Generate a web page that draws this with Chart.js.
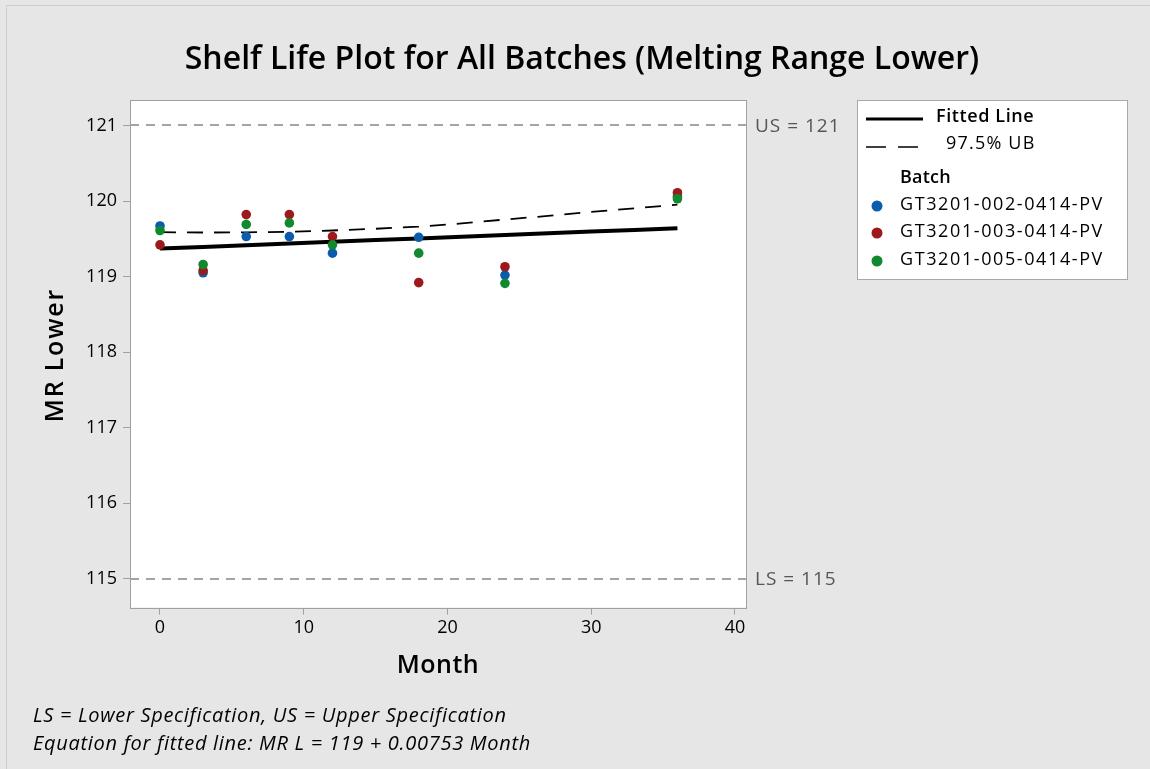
<!DOCTYPE html>
<html>
<head>
<meta charset="utf-8">
<script src="https://cdn.jsdelivr.net/npm/chart.js@4.4.1/dist/chart.umd.min.js"></script>
<style>
  html, body { margin: 0; padding: 0; background: #e6e6e6; }
  #wrap { width: 1150px; height: 769px; }
</style>
</head>
<body>
<div id="wrap"><canvas id="c" width="1150" height="769"></canvas></div>
<script>
// ---- data ----
const months = [0, 3, 6, 9, 12, 18, 24, 36];
const batchLabels = ["GT3201-002-0414-PV", "GT3201-003-0414-PV", "GT3201-005-0414-PV"];
const batch002 = [119.67, 119.05, 119.53, 119.53, 119.31, 119.52, 119.02, 120.06];
const batch003 = [119.42, 119.08, 119.82, 119.82, 119.53, 118.92, 119.13, 120.11];
const batch005 = [119.61, 119.16, 119.69, 119.71, 119.42, 119.31, 118.91, 120.03];
const fitMonths = [0, 3, 6, 9, 12, 15, 18, 21, 24, 27, 30, 33, 36];
const fittedLine = [119.37, 119.393, 119.415, 119.438, 119.46, 119.483, 119.505, 119.528, 119.55, 119.573, 119.596, 119.618, 119.641];
const upperBound = [119.587, 119.583, 119.585, 119.593, 119.61, 119.633, 119.66, 119.703, 119.755, 119.803, 119.856, 119.903, 119.951];
const xTicks = [0, 10, 20, 30, 40];
const yTicks = [115, 116, 117, 118, 119, 120, 121];
const specUpper = 121;
const specLower = 115;
const specLabels = ["US = 121", "LS = 115"];
const titleText = "Shelf Life Plot for All Batches (Melting Range Lower)";
const xTitle = "Month";
const yTitle = "MR Lower";
const footnotes = ["LS = Lower Specification, US = Upper Specification",
                   "Equation for fitted line: MR L = 119 + 0.00753 Month"];
const legendLineLabels = ["Fitted Line", "97.5% UB"];
const legendGroupTitle = "Batch";

const FONT = '"Open Sans", "Noto Sans", sans-serif';
const colors = ['#0b5cad', '#9c1a1c', '#10892f'];

function pts(xs, ys) { return xs.map((x, i) => ({ x: x, y: ys[i] })); }

const datasets = [
  { label: batchLabels[2], type: 'scatter', data: pts(months, batch005), backgroundColor: colors[2], borderWidth: 0, pointRadius: 4.8, order: 0 },
  { label: batchLabels[1], type: 'scatter', data: pts(months, batch003), backgroundColor: colors[1], borderWidth: 0, pointRadius: 4.8, order: 1 },
  { label: batchLabels[0], type: 'scatter', data: pts(months, batch002), backgroundColor: colors[0], borderWidth: 0, pointRadius: 4.8, order: 2 },
  { label: legendLineLabels[1], type: 'line', data: pts(fitMonths, upperBound), borderColor: '#000', borderWidth: 1.8, borderDash: [16, 11], pointRadius: 0, tension: 0, fill: false, order: 3 },
  { label: legendLineLabels[0], type: 'line', data: pts(fitMonths, fittedLine), borderColor: '#000', borderWidth: 4, pointRadius: 0, tension: 0, fill: false, order: 4 }
];

function text(ctx, s, x, y, font, spacing) {
  ctx.font = font;
  ctx.letterSpacing = (spacing || 0) + 'px';
  ctx.fillText(s, x, y);
  ctx.letterSpacing = '0px';
}

const decor = {
  id: 'decor',
  beforeDraw(chart) {
    const ctx = chart.ctx, a = chart.chartArea;
    ctx.save();
    ctx.fillStyle = '#e6e6e6';
    ctx.fillRect(0, 0, chart.width, chart.height);
    ctx.strokeStyle = '#cfcfcf';
    ctx.lineWidth = 1;
    ctx.strokeRect(6.5, 5.5, chart.width, chart.height);
    ctx.fillStyle = '#ffffff';
    ctx.fillRect(a.left, a.top, a.right - a.left, a.bottom - a.top);
    ctx.restore();
  },
  beforeDatasetsDraw(chart) {
    const ctx = chart.ctx, a = chart.chartArea, ys = chart.scales.y;
    ctx.save();
    ctx.strokeStyle = '#a3a3a3';
    ctx.lineWidth = 2;
    ctx.setLineDash([9, 7]);
    [specUpper, specLower].forEach(v => {
      const py = Math.round(ys.getPixelForValue(v));
      ctx.beginPath(); ctx.moveTo(a.left, py); ctx.lineTo(a.right, py); ctx.stroke();
    });
    ctx.restore();
  },
  afterDraw(chart) {
    const ctx = chart.ctx, a = chart.chartArea, ys = chart.scales.y;
    ctx.save();
    // plot border
    ctx.strokeStyle = '#a0a0a0';
    ctx.lineWidth = 1;
    ctx.strokeRect(Math.round(a.left) + 0.5, Math.round(a.top) + 0.5, Math.round(a.right - a.left), Math.round(a.bottom - a.top));
    // spec labels
    ctx.fillStyle = '#555555';
    ctx.textAlign = 'left'; ctx.textBaseline = 'middle';
    text(ctx, specLabels[0], a.right + 9, ys.getPixelForValue(specUpper) + 1, '19px ' + FONT, 1);
    text(ctx, specLabels[1], a.right + 9, ys.getPixelForValue(specLower) + 1, '19px ' + FONT, 1);
    // title
    ctx.fillStyle = '#000';
    ctx.textAlign = 'center';
    text(ctx, titleText, 582, 60, '600 32px ' + FONT, 0);
    // axis titles
    text(ctx, xTitle, (a.left + a.right) / 2, 666, '600 25px ' + FONT, 0.5);
    ctx.save();
    ctx.translate(56, 355);
    ctx.rotate(-Math.PI / 2);
    text(ctx, yTitle, 0, 0, '600 25px ' + FONT, 1.8);
    ctx.restore();
    // footnotes
    ctx.textAlign = 'left';
    text(ctx, footnotes[0], 33, 716, 'italic 20px ' + FONT, 0.7);
    text(ctx, footnotes[1], 33, 744, 'italic 20px ' + FONT, 0.7);
    // legend
    const L = { x: 857, y: 100, w: 270, h: 179 };
    ctx.fillStyle = '#fff';
    ctx.fillRect(L.x, L.y, L.w, L.h);
    ctx.strokeStyle = '#a8a8a8';
    ctx.strokeRect(L.x + 0.5, L.y + 0.5, L.w, L.h);
    const fit = chart.data.datasets.find(d => d.label === legendLineLabels[0]);
    const ub = chart.data.datasets.find(d => d.label === legendLineLabels[1]);
    ctx.strokeStyle = fit.borderColor; ctx.lineWidth = 3;
    ctx.beginPath(); ctx.moveTo(866, 119); ctx.lineTo(923, 119); ctx.stroke();
    ctx.lineWidth = 1.5; ctx.setLineDash([20, 12]);
    ctx.strokeStyle = ub.borderColor;
    ctx.beginPath(); ctx.moveTo(866, 147); ctx.lineTo(918, 147); ctx.stroke();
    ctx.setLineDash([]);
    ctx.fillStyle = '#000';
    text(ctx, fit.label, 936, 117, '600 18px ' + FONT, 0.6);
    text(ctx, ub.label, 946, 144, '500 18px ' + FONT, 1.2);
    text(ctx, legendGroupTitle, 900, 178, '600 18px ' + FONT, 0.2);
    const rowsY = [205, 232, 260];
    batchLabels.forEach((lab, i) => {
      const ds = chart.data.datasets.find(d => d.label === lab);
      ctx.fillStyle = ds.backgroundColor;
      ctx.beginPath(); ctx.arc(877, rowsY[i] + 1, 5.5, 0, Math.PI * 2); ctx.fill();
      ctx.fillStyle = '#000';
      text(ctx, lab, 900, rowsY[i], '500 18px ' + FONT, 1.6);
    });
    ctx.restore();
  }
};

new Chart(document.getElementById('c'), {
  type: 'scatter',
  data: { datasets: datasets },
  options: {
    responsive: false,
    animation: false,
    events: [],
    layout: { padding: { top: 100, right: 404, left: 0, bottom: 0 } },
    plugins: { legend: { display: false }, title: { display: false }, tooltip: { enabled: false } },
    scales: {
      x: {
        type: 'linear', min: -2.087, max: 40.77,
        afterBuildTicks: s => { s.ticks = xTicks.map(v => ({ value: v })); },
        afterFit: s => { s.height = 161.5; },
        grid: { drawOnChartArea: false, drawTicks: true, tickLength: 7, color: '#a0a0a0' },
        border: { display: false },
        ticks: { color: '#000', padding: 3, font: { size: 18, weight: 500, family: FONT }, maxRotation: 0 }
      },
      y: {
        type: 'linear', min: 114.62, max: 121.337,
        afterBuildTicks: s => { s.ticks = yTicks.map(v => ({ value: v })); },
        afterFit: s => { s.width = 130; },
        grid: { drawOnChartArea: false, drawTicks: true, tickLength: 7, color: '#a0a0a0' },
        border: { display: false },
        ticks: { color: '#000', padding: 6, font: { size: 18, weight: 500, family: FONT } }
      }
    }
  },
  plugins: [decor]
});
</script>
</body>
</html>
